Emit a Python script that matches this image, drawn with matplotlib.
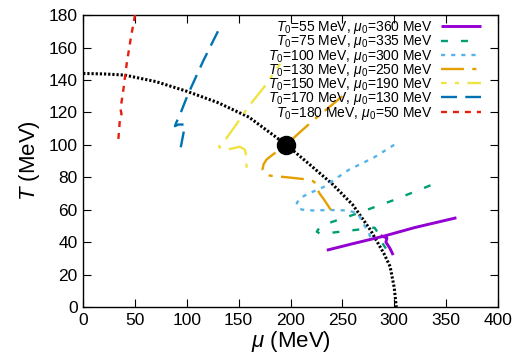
import numpy as np
import matplotlib
matplotlib.use("Agg")
import matplotlib.pyplot as plt

plt.rcParams['font.family'] = ['Liberation Sans', 'DejaVu Sans']
plt.rcParams['mathtext.fontset'] = 'custom'
plt.rcParams['mathtext.rm'] = 'Liberation Sans'
plt.rcParams['mathtext.it'] = 'Liberation Sans:italic'
plt.rcParams['lines.scale_dashes'] = False

# Phase boundary
pb_mu = [0, 20, 40, 70, 100, 130, 160, 196, 220, 240, 260, 277, 290, 296, 300, 302]
pb_T = [144, 143.7, 143, 139, 133, 126, 117, 100, 87, 76, 63, 47.5, 33, 25, 12, 0]

# Critical end point
cep_mu, cep_T = 196, 100

# Trajectories
labels = [r"$T_0$=55 MeV, $\mu_0$=360 MeV",
          r"$T_0$=75 MeV, $\mu_0$=335 MeV",
          r"$T_0$=100 MeV, $\mu_0$=300 MeV",
          r"$T_0$=130 MeV, $\mu_0$=250 MeV",
          r"$T_0$=150 MeV, $\mu_0$=190 MeV",
          r"$T_0$=170 MeV, $\mu_0$=130 MeV",
          r"$T_0$=180 MeV, $\mu_0$=50 MeV"]

mu_55 = [360, 320, 289, 260, 235, np.nan, 287, 293, 292, 296, 299]
T_55 = [55, 49, 43.5, 39, 35, np.nan, 44, 42.5, 40, 36, 32]

mu_75 = [335, 300, 260, 238, 228, 225.3, 228, 240, 260, 281, 284.5, 288, 292]
T_75 = [75, 66, 56.7, 52, 49, 46.4, 45.4, 45.8, 47.3, 48.9, 45.6, 40, 36]

mu_100 = [300, 280, 256, 232, 216, 209, 206, 207, 211, 222, 238, 255, 265, 270, 275, 277]
T_100 = [100, 92, 84.5, 74, 69.5, 67, 64, 61.5, 60, 59.5, 59.8, 59.5, 57.8, 51.6, 46.4, 43]

mu_130 = [250, 235, 220, 206, 196, 183, 177, 174, 173, 175, 180, 196, 215, 222, 224.5, 225.5, 228, 232, 241]
T_130 = [130, 122, 114, 106, 100, 94, 91, 88, 84.5, 82.3, 81, 80, 78.7, 77.5, 76, 73, 70, 66.5, 57.8]

mu_150 = [190, 175, 160, 146, 137, 131, 133, 140, 151, 156, 157, 157, 158]
T_150 = [150, 136, 124, 111, 103, 99, 97.5, 97.2, 98.8, 97, 94, 91, 84]

mu_170 = [130, 116, 101, 97, 93, 90, 88.5, 92, 98, 97, 93.3]
T_170 = [170, 152, 131, 124.5, 118, 114, 111.5, 112.5, 112.5, 108, 95.7]

mu_180 = [50, 46, 42, 39, 36, 37, 35.5, 34.5, 33.8]
T_180 = [180, 166, 150, 135, 122, 119, 116, 108, 102]

colors = ['#9400d3', '#009e73', '#56b4e9', '#e69f00', '#f0e442', '#0072b2', '#e51e10']
styles = [(0, ()), (0, (5, 9.4)), (0, (3, 4.3)), (0, (16.5, 6, 3, 6)),
          (12.5, (16.5, 6, 3, 6)), (0, (11.5, 6)), (0, (4.3, 4.3))]
widths = [2.1, 1.7, 1.7, 1.7, 1.7, 1.7, 1.7]

fig = plt.figure(figsize=(5.23, 3.59), dpi=100)
ax = fig.add_axes([0.159, 0.145, 0.793, 0.813])

ax.plot(pb_mu, pb_T, color='black', lw=2.2, linestyle=(0, (1.6, 1.4)), zorder=2)
ax.plot([cep_mu], [cep_T], 'o', color='black', markersize=13, zorder=5)

series = [(mu_55, T_55), (mu_75, T_75), (mu_100, T_100), (mu_130, T_130),
          (mu_150, T_150), (mu_170, T_170), (mu_180, T_180)]
for (m, t), c, s, w, lab in zip(series, colors, styles, widths, labels):
    ax.plot(m, t, color=c, linestyle=s, lw=w, label=lab, zorder=3)

ax.set_xlim(0, 400)
ax.set_ylim(0, 180)
ax.set_xticks(np.arange(0, 401, 50))
ax.set_yticks(np.arange(0, 181, 20))
ax.tick_params(direction='in', length=6, width=0.8, top=True, right=True,
               labelsize=12.5, pad=4)
for sp in ax.spines.values():
    sp.set_linewidth(1.0)

ax.set_xlabel(r"$\mu$ (MeV)", fontsize=16, labelpad=1)
ax.set_ylabel(r"$T$ (MeV)", fontsize=16, labelpad=5)

leg = ax.legend(loc='upper right', frameon=False, fontsize=10, markerfirst=False,
                handlelength=2.9, handletextpad=0.6, labelspacing=-0.2,
                borderaxespad=0.0, bbox_to_anchor=(0.973, 1.005))

fig.savefig('out.png', dpi=100)
